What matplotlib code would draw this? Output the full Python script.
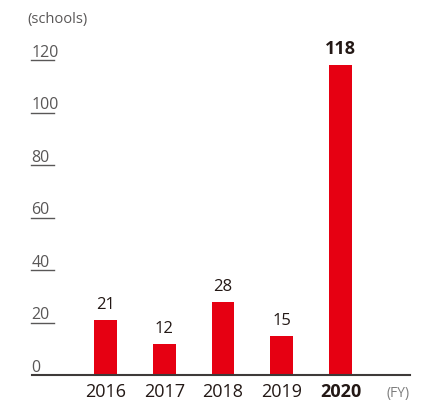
import matplotlib
matplotlib.use('Agg')
import matplotlib.pyplot as plt
import matplotlib.transforms as mtransforms

plt.rcParams['font.family'] = ['Open Sans', 'DejaVu Sans']

# 学校数の推移
years = ['2016', '2017', '2018', '2019', '2020']
schools = [21, 12, 28, 15, 118]
y_ticks = [0, 20, 40, 60, 80, 100, 120]

W, H = 443, 401
fig = plt.figure(figsize=(W / 100, H / 100), dpi=100)

# 軸の位置（ピクセル単位で決める）
x0_px, x1_px = 32, 410
y0_px, y1_px = 375, 60
ax = fig.add_axes([x0_px / W, (H - y0_px) / H, (x1_px - x0_px) / W, (y0_px - y1_px) / H])

step = 58.75
first = 105.5
ax.set_xlim((x0_px - first) / step, (x1_px - first) / step)
ax.set_ylim(0, 120)

red = '#e60012'
dark = '#231815'
gray = '#595757'

xs = list(range(len(years)))
ax.bar(xs, schools, width=0.39, color=red, zorder=2)

for s in ['top', 'right', 'left']:
    ax.spines[s].set_visible(False)
ax.spines['bottom'].set_color('#3e3a39')
ax.spines['bottom'].set_linewidth(1.5)
ax.set_xticks([])
ax.set_yticks([])

# 数値ラベル
for i, v in enumerate(schools):
    last = i == len(schools) - 1
    ax.annotate(str(v), (i, v), xytext=(0, 5), textcoords='offset points',
                ha='center', va='bottom', fontsize=13 if last else 12,
                fontweight='bold' if last else 'normal', color=dark)

# 年度ラベル
for i, y in enumerate(years):
    last = i == len(years) - 1
    ax.text(i, -0.025, y, transform=ax.get_xaxis_transform(), ha='center', va='top',
            fontsize=13, fontweight='bold' if last else 'normal', color=dark)
ax.text(1.0, -0.035, '(FY)', transform=ax.transAxes, ha='right', va='top',
        fontsize=10, color='#7d7d7d')

# 目盛り（数字の下に短い線）
trans = mtransforms.blended_transform_factory(ax.transAxes, ax.transData)
tick_len = 23 / (x1_px - x0_px)
for t in y_ticks:
    ax.annotate(str(t), (-0.002, t), xycoords=trans, xytext=(0, 2.5),
                textcoords='offset points', ha='left', va='baseline',
                fontsize=11.5, color=gray, annotation_clip=False)
    if t > 0:
        ax.plot([-0.002, -0.002 + tick_len], [t, t], transform=trans, color=gray,
                lw=1.0, clip_on=False)

fig.text(27 / W, 1 - 20 / H, '(schools)', ha='left', va='center', fontsize=10.5, color=gray)

fig.savefig('out.png', dpi=100)
